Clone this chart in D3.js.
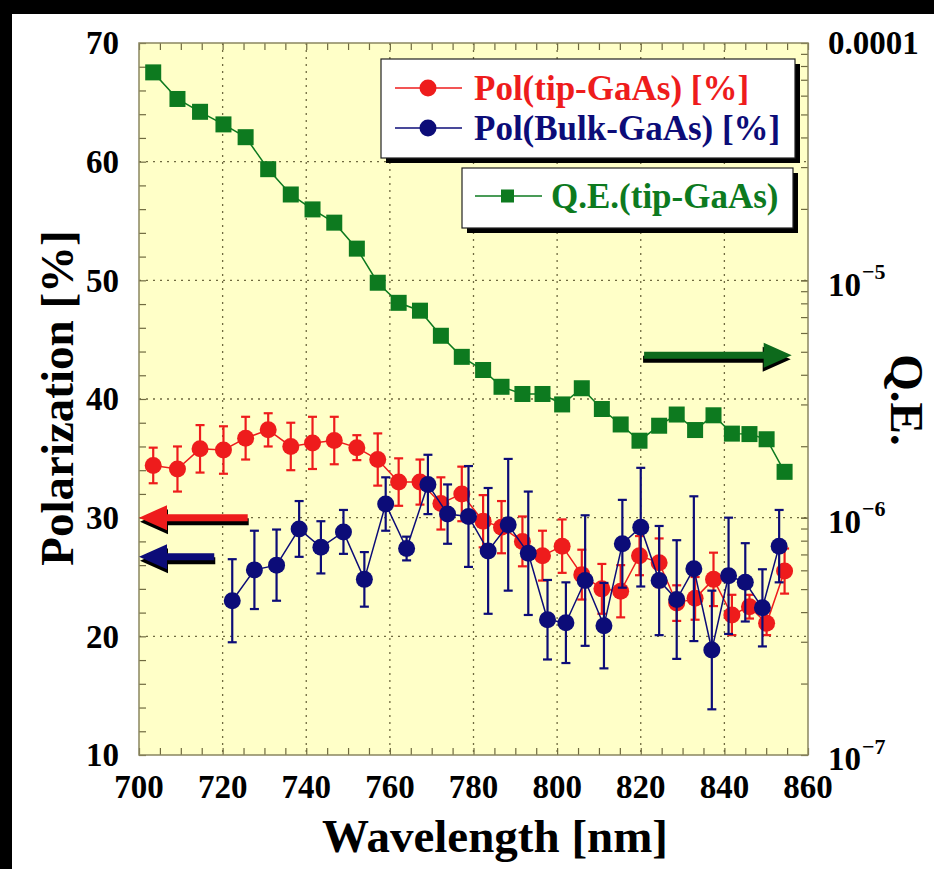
<!DOCTYPE html>
<html>
<head>
<meta charset="utf-8">
<script src="https://cdn.jsdelivr.net/npm/d3@7"></script>
<style>
  html, body { margin: 0; padding: 0; background: #ffffff; }
  svg { display: block; }
  text { font-family: "Liberation Serif", "Times New Roman", serif; font-weight: bold; }
</style>
</head>
<body>
<svg id="chart" width="934" height="869"></svg>
<script>
// ---- data -------------------------------------------------------------
// wavelengths [nm] for the tip-GaAs measurements (polarization + Q.E.)
const tipWavelength = [703.4, 709.2, 714.6, 720.2, 725.5, 730.9, 736.3, 741.5, 746.7, 752.1,
  757.1, 762.1, 767.2, 772.2, 777.2, 782.3, 786.7, 791.7, 796.5, 801.2, 805.9, 810.7,
  815.2, 819.7, 824.4, 828.6, 833.0, 837.4, 841.8, 846.0, 850.1, 854.4];
// polarization of tip-GaAs [%] and its error
const polTip = [34.4, 34.1, 35.8, 35.7, 36.7, 37.4, 36.0, 36.3, 36.5, 35.9,
  34.9, 33.0, 33.0, 31.2, 32.0, 29.7, 29.2, 28.0, 26.8, 27.6, 25.2, 24.0,
  23.8, 26.8, 26.2, 22.8, 23.2, 24.8, 21.8, 22.5, 21.1, 25.5];
const polTipErr = [1.5, 1.9, 2.0, 2.0, 1.8, 1.4, 2.0, 2.2, 2.0, 1.05,
  2.2, 2.0, 1.9, 2.2, 2.3, 2.2, 2.2, 2.1, 2.1, 2.25, 2.1, 2.1,
  2.2, 1.65, 2.05, 1.5, 1.8, 2.25, 1.7, 1.0, 1.0, 1.9];
// quantum efficiency of tip-GaAs
const qeTip = [7.52e-5, 5.81e-5, 5.13e-5, 4.54e-5, 4.01e-5, 2.94e-5, 2.30e-5, 1.99e-5, 1.75e-5, 1.36e-5,
  9.77e-6, 8.04e-6, 7.45e-6, 5.84e-6, 4.76e-6, 4.19e-6, 3.56e-6, 3.32e-6, 3.32e-6, 3.00e-6, 3.51e-6, 2.87e-6,
  2.47e-6, 2.11e-6, 2.44e-6, 2.72e-6, 2.34e-6, 2.70e-6, 2.26e-6, 2.25e-6, 2.14e-6, 1.56e-6];
// bulk GaAs polarization [%]
const bulkWavelength = [722.3, 727.6, 732.9, 738.3, 743.5, 748.9, 753.9, 759.0, 764.0, 769.1,
  773.8, 778.8, 783.5, 788.3, 793.1, 797.7, 802.1, 806.7, 811.2, 815.6, 820.0, 824.4,
  828.6, 832.7, 837.0, 841.0, 845.0, 849.1, 853.1];
const polBulk = [23.0, 25.6, 26.0, 29.05, 27.5, 28.8, 24.8, 31.15, 27.4, 32.8,
  30.3, 30.1, 27.2, 29.4, 27.0, 21.4, 21.15, 24.7, 20.9, 27.8, 29.2, 24.7,
  23.1, 25.7, 18.85, 25.1, 24.55, 22.4, 27.6];
const polBulkErr = [3.5, 3.3, 3.0, 2.35, 2.2, 1.85, 2.3, 2.25, 1.0, 2.5,
  2.5, 4.25, 5.3, 5.55, 5.2, 3.35, 3.4, 5.5, 3.6, 3.7, 5.0, 4.6,
  5.0, 6.1, 5.0, 4.9, 3.3, 3.25, 3.05];

// axis ticks
const xTicks = [700, 720, 740, 760, 780, 800, 820, 840, 860];
const yLeftTicks = [10, 20, 30, 40, 50, 60, 70];
const yRightTicks = [1e-7, 1e-6, 1e-5, 1e-4];
const yRightLabels = [["10", "-7"], ["10", "-6"], ["10", "-5"], ["0.0001", ""]];

// legend entries
const legendPol = [
  { label: "Pol(tip-GaAs) [%]", color: "#ee1c1c" },
  { label: "Pol(Bulk-GaAs) [%]", color: "#0c0c78" }
];
const legendQE = [{ label: "Q.E.(tip-GaAs)", color: "#0d7a1f" }];

// axis-pointing arrows: [from wavelength, to wavelength, value, axis]
const arrows = [
  { x0: 726, x1: 700, v: 30.0, axis: "left", color: "#ee1c1c" },
  { x0: 718, x1: 700, v: 26.7, axis: "left", color: "#0c0c78" },
  { x0: 820.8, x1: 856.1, v: 4.84e-6, axis: "right", color: "#0d6a1c" }
];

// ---- layout -----------------------------------------------------------
const W = 934, H = 869;
const plot = { left: 139, right: 808, top: 43, bottom: 755 };
const red = "#ee1c1c", blue = "#0c0c78", green = "#0d7a1f";
const gridColor = "#6f6a40";

const svg = d3.select("#chart");

const x = d3.scaleLinear().domain([700, 860]).range([plot.left, plot.right]);
const yL = d3.scaleLinear().domain([10, 70]).range([plot.bottom, plot.top]);
const yR = d3.scaleLog().domain([1e-7, 1e-4]).range([plot.bottom, plot.top]);

// black frame strips on top and left
svg.append("rect").attr("x", 0).attr("y", 0).attr("width", W).attr("height", 14).attr("fill", "#000");
svg.append("rect").attr("x", 0).attr("y", 0).attr("width", 12).attr("height", H).attr("fill", "#000");

// plot background
svg.append("rect")
  .attr("x", plot.left).attr("y", plot.top)
  .attr("width", plot.right - plot.left).attr("height", plot.bottom - plot.top)
  .attr("fill", "#ffffc8");

// grid lines (dotted)
const grid = svg.append("g").attr("stroke", gridColor).attr("stroke-width", 1.3)
  .attr("stroke-dasharray", "2,5");
xTicks.slice(1, -1).forEach(t => grid.append("line")
  .attr("x1", x(t)).attr("x2", x(t)).attr("y1", plot.top).attr("y2", plot.bottom));
yLeftTicks.slice(1, -1).forEach(t => grid.append("line")
  .attr("x1", plot.left).attr("x2", plot.right).attr("y1", yL(t)).attr("y2", yL(t)));

// axes with inward ticks (no labels; labels are drawn separately)
function styleAxis(g) {
  g.select(".domain").remove();
  g.selectAll("line").attr("stroke", gridColor).attr("stroke-width", 1.2);
  g.selectAll("text").remove();
}
const xMinor = d3.range(700, 861, 5);
svg.append("g").attr("transform", `translate(0,${plot.bottom})`)
  .call(d3.axisTop(x).tickValues(xMinor).tickSize(7)).call(styleAxis);
svg.append("g").attr("transform", `translate(0,${plot.top})`)
  .call(d3.axisBottom(x).tickValues(xMinor).tickSize(7)).call(styleAxis);
svg.append("g").attr("transform", `translate(${plot.left},0)`)
  .call(d3.axisRight(yL).tickValues(d3.range(10, 71, 2)).tickSize(7)).call(styleAxis);
const logMinor = [];
[1e-7, 1e-6, 1e-5].forEach(d => { for (let k = 1; k <= 10; k++) logMinor.push(d * k); });
svg.append("g").attr("transform", `translate(${plot.right},0)`)
  .call(d3.axisLeft(yR).tickValues(logMinor).tickSize(7)).call(styleAxis);

// frame
svg.append("rect")
  .attr("x", plot.left).attr("y", plot.top)
  .attr("width", plot.right - plot.left).attr("height", plot.bottom - plot.top)
  .attr("fill", "none").attr("stroke", "#8a8660").attr("stroke-width", 1.5);

// tick labels
const fs = 33;
svg.append("g").selectAll("text").data(xTicks).join("text")
  .attr("x", d => x(d)).attr("y", 798).attr("text-anchor", "middle")
  .attr("font-size", fs).attr("fill", "#000").text(d => d);
svg.append("g").selectAll("text").data(yLeftTicks).join("text")
  .attr("x", plot.left - 20).attr("y", d => yL(d)).attr("dy", "0.34em")
  .attr("text-anchor", "end").attr("font-size", fs).attr("fill", "#000").text(d => d);
const rt = svg.append("g").selectAll("text").data(yRightTicks).join("text")
  .attr("x", plot.right + 20).attr("y", (d, i) => yR(d) + (i === 3 ? 0 : 4)).attr("dy", "0.34em")
  .attr("font-size", fs).attr("fill", "#000");
rt.append("tspan").text((d, i) => yRightLabels[i][0]);
rt.append("tspan").attr("font-size", 22).attr("dy", "-0.75em").attr("dx", 1)
  .text((d, i) => yRightLabels[i][1] ? "\u2212" + yRightLabels[i][1].slice(1) : "");

// axis titles
svg.append("text").attr("x", 495).attr("y", 852).attr("text-anchor", "middle")
  .attr("font-size", 47).attr("fill", "#000").text("Wavelength [nm]");
svg.append("text").attr("transform", "translate(73,398) rotate(-90)").attr("text-anchor", "middle")
  .attr("font-size", 47).attr("fill", "#000").text("Polarization [%]");
svg.append("text").attr("transform", "translate(891,400) rotate(90)").attr("text-anchor", "middle")
  .attr("font-size", 47).attr("fill", "#000").text("Q.E.");

// ---- series -----------------------------------------------------------
const tipPts = tipWavelength.map((w, i) => ({ w, p: polTip[i], e: polTipErr[i], q: qeTip[i] }));
const bulkPts = bulkWavelength.map((w, i) => ({ w, p: polBulk[i], e: polBulkErr[i] }));

// Q.E. (log, right axis)
svg.append("path").datum(tipPts)
  .attr("d", d3.line().x(d => x(d.w)).y(d => yR(d.q)))
  .attr("fill", "none").attr("stroke", green).attr("stroke-width", 1.5);
svg.append("g").selectAll("rect").data(tipPts).join("rect")
  .attr("x", d => x(d.w) - 8).attr("y", d => yR(d.q) - 8)
  .attr("width", 16).attr("height", 16).attr("fill", green);

function drawPol(pts, color) {
  const g = svg.append("g");
  const eb = g.append("g").attr("stroke", color).attr("stroke-width", 2.2);
  pts.forEach(d => {
    const cx = x(d.w), y0 = yL(d.p - d.e), y1 = yL(d.p + d.e);
    eb.append("line").attr("x1", cx).attr("x2", cx).attr("y1", y0).attr("y2", y1);
    eb.append("line").attr("x1", cx - 4.5).attr("x2", cx + 4.5).attr("y1", y0).attr("y2", y0);
    eb.append("line").attr("x1", cx - 4.5).attr("x2", cx + 4.5).attr("y1", y1).attr("y2", y1);
  });
  g.append("path").datum(pts)
    .attr("d", d3.line().x(d => x(d.w)).y(d => yL(d.p)))
    .attr("fill", "none").attr("stroke", color).attr("stroke-width", 1.5);
  g.selectAll("circle").data(pts).join("circle")
    .attr("cx", d => x(d.w)).attr("cy", d => yL(d.p)).attr("r", 8.5).attr("fill", color);
}
drawPol(tipPts, red);
drawPol(bulkPts, blue);

// ---- arrows pointing to the matching axis -------------------------------
arrows.forEach(a => {
  const yy = a.axis === "left" ? yL(a.v) : yR(a.q === undefined ? a.v : a.q);
  const xs = x(a.x0), xt = x(a.x1);
  const dir = Math.sign(xt - xs);
  const headLen = 28, headHalf = 12.5, shaftHalf = 3.5;
  const xb = xt - dir * headLen;
  const pts = [[xs, yy - shaftHalf], [xb, yy - shaftHalf], [xb, yy - headHalf], [xt, yy],
    [xb, yy + headHalf], [xb, yy + shaftHalf], [xs, yy + shaftHalf]];
  const poly = pts.map(p => p.join(",")).join(" ");
  svg.append("polygon").attr("points", poly).attr("fill", "#000")
    .attr("transform", `translate(${-dir * 1},4)`);
  svg.append("polygon").attr("points", poly).attr("fill", a.color);
});

// ---- legends ----------------------------------------------------------
function legendBox(x0, y0, w, h) {
  svg.append("rect").attr("x", x0 + 5).attr("y", y0 + 5).attr("width", w).attr("height", h).attr("fill", "#000");
  svg.append("rect").attr("x", x0).attr("y", y0).attr("width", w).attr("height", h)
    .attr("fill", "#fff").attr("stroke", "#222").attr("stroke-width", 1.2);
}
legendBox(381, 59, 414, 99);
legendPol.forEach((d, i) => {
  const yy = 88 + i * 40;
  svg.append("line").attr("x1", 395).attr("x2", 462).attr("y1", yy).attr("y2", yy)
    .attr("stroke", d.color).attr("stroke-width", 1.5);
  svg.append("circle").attr("cx", 428).attr("cy", yy).attr("r", 8.5).attr("fill", d.color);
  svg.append("text").attr("x", 474).attr("y", yy).attr("dy", "0.34em")
    .attr("font-size", 35).attr("fill", d.color).text(d.label);
});
legendBox(462, 168, 331, 60);
legendQE.forEach(d => {
  const yy = 196;
  svg.append("line").attr("x1", 475).attr("x2", 542).attr("y1", yy).attr("y2", yy)
    .attr("stroke", d.color).attr("stroke-width", 1.5);
  svg.append("rect").attr("x", 501).attr("y", yy - 6.5).attr("width", 13).attr("height", 13).attr("fill", d.color);
  svg.append("text").attr("x", 551).attr("y", yy).attr("dy", "0.34em")
    .attr("font-size", 35).attr("fill", d.color).text(d.label);
});
</script>
</body>
</html>
